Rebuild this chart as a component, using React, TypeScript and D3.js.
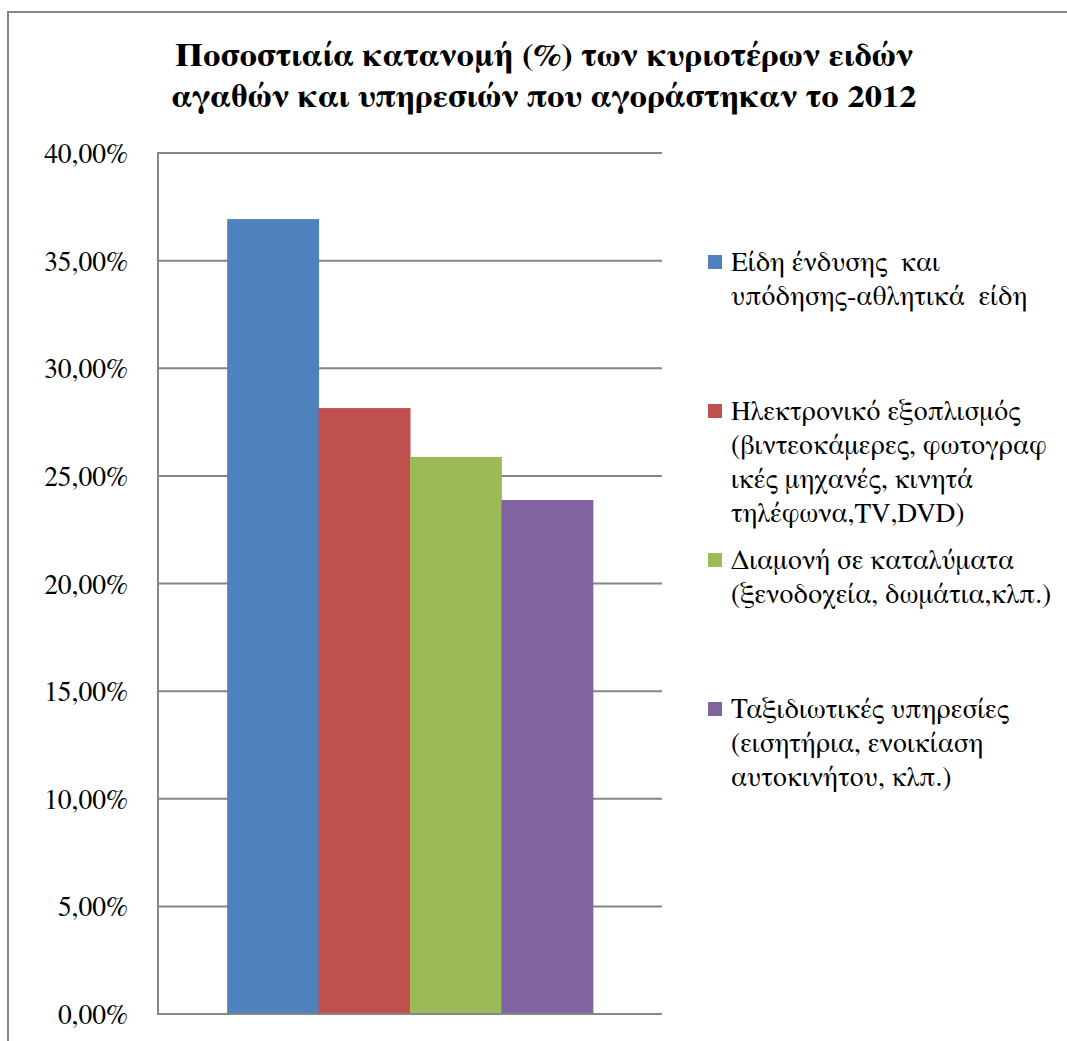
import React from 'react';
import * as d3 from 'd3';

const titleLines = [
  'Ποσοστιαία κατανομή (%) των κυριοτέρων ειδών',
  'αγαθών και υπηρεσιών που αγοράστηκαν το 2012',
];

const seriesNames = [
  'Είδη ένδυσης και υπόδησης-αθλητικά είδη',
  'Ηλεκτρονικό εξοπλισμός (βιντεοκάμερες, φωτογραφικές μηχανές, κινητά τηλέφωνα,TV,DVD)',
  'Διαμονή σε καταλύματα (ξενοδοχεία, δωμάτια,κλπ.)',
  'Ταξιδιωτικές υπηρεσίες (εισητήρια, ενοικίαση αυτοκινήτου, κλπ.)',
];

// legend text as wrapped in the picture
const legendLines = [
  ['Είδη ένδυσης  και', 'υπόδησης-αθλητικά  είδη'],
  ['Ηλεκτρονικό εξοπλισμός', '(βιντεοκάμερες, φωτογραφ', 'ικές μηχανές, κινητά', 'τηλέφωνα,TV,DVD)'],
  ['Διαμονή σε καταλύματα', '(ξενοδοχεία, δωμάτια,κλπ.)'],
  ['Ταξιδιωτικές υπηρεσίες', '(εισητήρια, ενοικίαση', 'αυτοκινήτου, κλπ.)'],
];

const values = [0.3693, 0.2815, 0.2588, 0.2388];
const colors = ['#4F81BD', '#C0504D', '#9BBB59', '#8064A2'];
const yTicks = [0, 0.05, 0.1, 0.15, 0.2, 0.25, 0.3, 0.35, 0.4];
const category = [''];

const W = 1067;
const H = 1041;
const plot = { left: 158, right: 662, top: 153, bottom: 1014 };
const font = "'FreeSerif', 'Liberation Serif', serif";

const locale = d3.formatLocale({ decimal: ',', thousands: '.', grouping: [3], currency: ['€', ''] });
const fmt = locale.format('.2%');

export default function App() {
  const y = d3.scaleLinear().domain([0, 0.4]).range([plot.bottom, plot.top]);
  const x0 = d3.scaleBand().domain(category).range([plot.left, plot.right]).padding(0.159);
  const x1 = d3.scaleBand().domain(seriesNames).range([0, x0.bandwidth()]);

  const legendX = 708;
  const legendBase = 271;
  const legendStep = 149;
  const lineH = 34;

  return (
    <svg width={W} height={H} style={{ position: 'absolute', left: 0, top: 0, background: '#fff' }}>
      <rect x={8} y={12} width={W + 20} height={H + 20} fill="#fff" stroke="#888" strokeWidth={2} />

      <g transform="translate(544,0) scale(1.08,1)">
        {titleLines.map((t, i) => (
          <text key={i} x={0} y={66 + i * 41} textAnchor="middle" fontFamily={font} fontWeight="bold" fontSize={32}>
            {t}
          </text>
        ))}
      </g>

      {yTicks.map((t) => (
        <g key={t}>
          <line x1={plot.left} x2={plot.right} y1={y(t)} y2={y(t)} stroke="#868686" strokeWidth={2} />
          <text x={128} y={y(t) + 10} textAnchor="end" fontFamily={font} fontSize={27.5}>
            {fmt(t)}
          </text>
        </g>
      ))}
      <line x1={plot.left} x2={plot.left} y1={plot.top - 1} y2={plot.bottom + 1} stroke="#868686" strokeWidth={2} />

      {category.map((c) => (
        <g key={c} transform={`translate(${x0(c)},0)`}>
          {seriesNames.map((s, i) => (
            <rect
              key={s}
              x={x1(s)}
              y={y(values[i])}
              width={x1.bandwidth() + 0.5}
              height={y(0) - y(values[i]) - 1}
              fill={colors[i]}
            />
          ))}
        </g>
      ))}

      {legendLines.map((lines, i) => {
        const base = legendBase + i * legendStep;
        return (
          <g key={i}>
            <rect x={legendX} y={base - 16} width={14} height={14} fill={colors[i]} />
            {lines.map((l, j) => (
              <text key={j} x={731} y={base + j * lineH} fontFamily={font} fontSize={27.5} style={{ whiteSpace: 'pre' }}>
                {l}
              </text>
            ))}
          </g>
        );
      })}
    </svg>
  );
}
